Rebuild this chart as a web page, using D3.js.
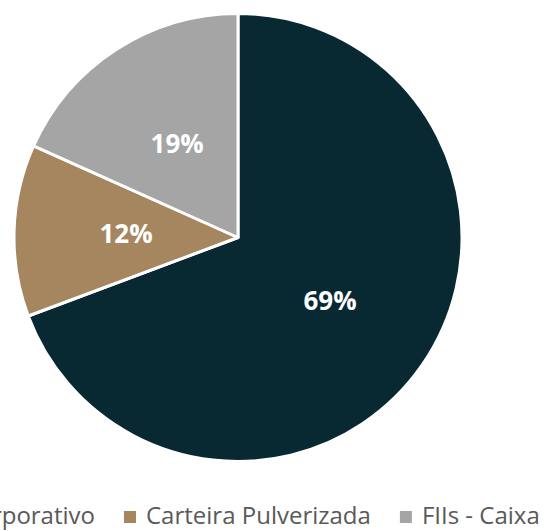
<!DOCTYPE html>
<html>
<head>
<meta charset="utf-8">
<script src="https://cdn.jsdelivr.net/npm/d3@7"></script>
<style>
  body { margin: 0; background: #fff; overflow: hidden; }
  text { font-family: "Open Sans", "Noto Sans", sans-serif; }
</style>
</head>
<body>
<div id="chart-area"></div>
<script>
/* Data */
var categories = ["Corporativo", "Carteira Pulverizada", "FIIs - Caixa"];
var values = [69.3, 12.4, 18.3];
var labels = ["69%", "12%", "19%"];
var colors = ["#082832", "#a6865f", "#a5a5a5"];

var width = 557, height = 531;
var cx = 238, cy = 237.5, radius = 224;

var svg = d3.select("#chart-area").append("svg")
  .attr("width", width)
  .attr("height", height);

var g = svg.append("g")
  .attr("transform", "translate(" + cx + "," + cy + ")");

var pie = d3.pie().sort(null).value(function(d){ return d; });
var arc = d3.arc().innerRadius(0).outerRadius(radius);

var arcs = pie(values);

// slices
g.selectAll("path")
  .data(arcs)
  .enter()
  .append("path")
    .attr("d", arc)
    .attr("fill", function(d, i){ return colors[i]; })
    .attr("stroke", "#fff")
    .attr("stroke-width", 3)
    .attr("stroke-linejoin", "round");

// percent labels
g.selectAll("text.pct")
  .data(arcs)
  .enter()
  .append("text")
    .attr("class", "pct")
    .attr("transform", function(d){ return "translate(" + arc.centroid(d) + ")"; })
    .attr("text-anchor", "middle")
    .attr("dy", "0.35em")
    .attr("font-size", "26px")
    .attr("font-weight", "bold")
    .attr("fill", "#fff")
    .text(function(d, i){ return labels[i]; });

/* Legend, laid out around the middle item (first one runs off the left edge, as in the original) */
var legend = svg.append("g").attr("class", "legend");
var legendY = 516;
var items = legend.selectAll("g")
  .data(categories)
  .enter()
  .append("g");

items.append("rect")
  .attr("width", 12)
  .attr("height", 12)
  .attr("y", legendY - 5)
  .attr("fill", function(d, i){ return colors[i]; });

items.append("text")
  .attr("y", legendY)
  .attr("dy", "0.35em")
  .attr("x", 22)
  .attr("font-size", "24px")
  .attr("fill", "#595959")
  .text(function(d){ return d; });

var widths = [];
items.each(function(){
  widths.push(d3.select(this).select("text").node().getComputedTextLength());
});

var gap = 29;
var positions = [];
positions[1] = 124;
positions[0] = positions[1] - gap - 22 - widths[0];
positions[2] = positions[1] + 22 + widths[1] + gap;
items.attr("transform", function(d, i){ return "translate(" + positions[i] + ",0)"; });
</script>
</body>
</html>
